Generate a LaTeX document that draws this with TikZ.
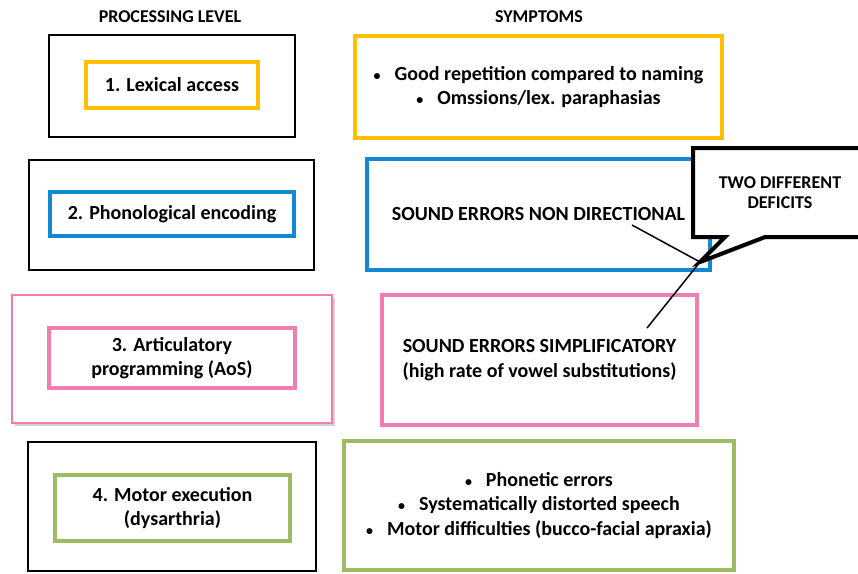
\documentclass[tikz,border=0pt]{standalone}
\usepackage{fontspec}
\setmainfont{Carlito}
\usetikzlibrary{shapes.callouts,shadows}
\definecolor{lvlyellow}{HTML}{FFC000}
\definecolor{lvlblue}{HTML}{1288D2}
\definecolor{lvlpink}{HTML}{EE7FB0}
\definecolor{lvlgreen}{HTML}{9CBB64}
\newcommand{\bul}{{\fontsize{14}{14}\selectfont\textbullet}\hspace{14pt}}
\begin{document}
\begin{tikzpicture}[x=1pt, y=-1pt, thick,
    outerbox/.style={draw, line width=1.8pt, rectangle},
    levelbox/.style={draw, line width=3.5pt, rectangle, align=center,
      font=\fontsize{20}{24.5}\selectfont\bfseries},
    headtext/.style={font=\fontsize{18}{21}\selectfont\bfseries}]
  \useasboundingbox (0,0) rectangle (858,573);

  \node[headtext] (headlvl) at (170,17) {PROCESSING LEVEL};
  \node[headtext] (headsym) at (539,17) {SYMPTOMS};

  % processing levels
  \node[outerbox, minimum width=246pt, minimum height=102pt] (out1) at (172,86) {};
  \node[outerbox, minimum width=285pt, minimum height=110pt] (out2) at (171.5,215) {};
  \node[outerbox, draw=lvlpink, line width=2.5pt, fill=white,
    drop shadow={opacity=0.35, shadow xshift=3pt, shadow yshift=-3pt},
    minimum width=320pt, minimum height=128pt] (out3) at (172,359) {};
  \node[outerbox, minimum width=288pt, minimum height=129pt] (out4) at (172,506.5) {};

  \node[levelbox, draw=lvlyellow, minimum width=172pt, minimum height=46pt] (lvl1) at (172,85) {1. Lexical access};
  \node[levelbox, draw=lvlblue, minimum width=244pt, minimum height=44pt] (lvl2) at (172,214) {2. Phonological encoding};
  \node[levelbox, draw=lvlpink, minimum width=246pt, minimum height=60pt] (lvl3) at (172,358) {3. Articulatory\\programming (AoS)};
  \node[levelbox, draw=lvlgreen, minimum width=235pt, minimum height=66pt] (lvl4) at (172.5,508) {4. Motor execution\\(dysarthria)};

  % symptoms
  \node[levelbox, draw=lvlyellow, minimum width=367pt, minimum height=102pt] (sym1) at (538.5,87)
    {\bul Good repetition compared to naming\\\bul Omssions/lex. paraphasias};
  \node[levelbox, draw=lvlblue, minimum width=343pt, minimum height=111pt] (sym2) at (538.5,214.5)
    {SOUND ERRORS NON DIRECTIONAL};
  \node[levelbox, draw=lvlpink, minimum width=315pt, minimum height=130pt] (sym3) at (539.5,360)
    {SOUND ERRORS SIMPLIFICATORY\\(high rate of vowel substitutions)};
  \node[levelbox, draw=lvlgreen, minimum width=390pt, minimum height=129pt] (sym4) at (539,505.5)
    {\bul Phonetic errors\\\bul Systematically distorted speech\\\bul Motor difficulties (bucco-facial apraxia)};

  % callout
  \coordinate (tip) at (700,262);
  \coordinate (nondir) at (632,225);
  \coordinate (simpl) at (647,328);
  \node[rectangle callout, draw, line width=4pt, fill=white,
    drop shadow={opacity=0.3, shadow xshift=2pt, shadow yshift=-2pt},
    callout absolute pointer={(tip)}, callout pointer width=40pt,
    minimum width=264pt, minimum height=89pt] (deficit) at (825,192.5) {};
  \node[align=center, font=\fontsize{18}{20}\selectfont\bfseries] (deftext) at (780,193) {TWO DIFFERENT\\DEFICITS};

  \draw[line width=1.5pt] (nondir) -- (tip) -- (simpl);
\end{tikzpicture}
\end{document}
